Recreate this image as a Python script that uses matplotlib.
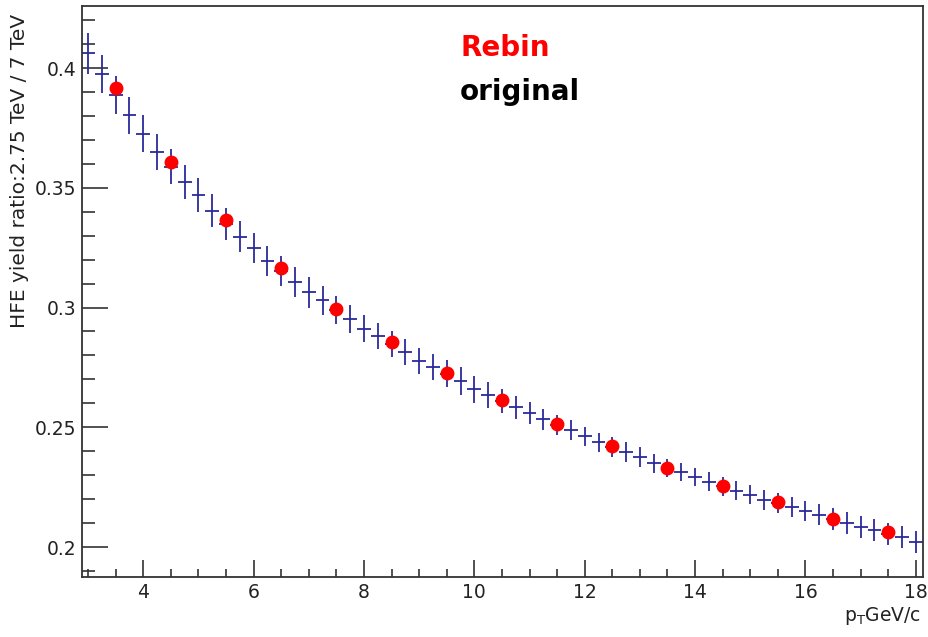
import numpy as np
import matplotlib
matplotlib.use("Agg")
from matplotlib import pyplot as plt
from matplotlib.ticker import MultipleLocator

plt.rcParams['font.family'] = ['DejaVu Sans']
plt.rcParams['mathtext.fontset'] = 'dejavusans'

# original binning (0.25 GeV/c)
pt_orig = [3.0, 3.25, 3.5, 3.75, 4.0, 4.25, 4.5, 4.75, 5.0, 5.25,
           5.5, 5.75, 6.0, 6.25, 6.5, 6.75, 7.0, 7.25, 7.5, 7.75,
           8.0, 8.25, 8.5, 8.75, 9.0, 9.25, 9.5, 9.75, 10.0, 10.25,
           10.5, 10.75, 11.0, 11.25, 11.5, 11.75, 12.0, 12.25, 12.5, 12.75,
           13.0, 13.25, 13.5, 13.75, 14.0, 14.25, 14.5, 14.75, 15.0, 15.25,
           15.5, 15.75, 16.0, 16.25, 16.5, 16.75, 17.0, 17.25, 17.5, 17.75,
           18.0]
ratio_orig = [0.4061, 0.3975, 0.3888, 0.3802, 0.3726, 0.3651, 0.3588, 0.3524, 0.3468, 0.3404,
              0.3350, 0.3296, 0.3247, 0.3196, 0.3152, 0.3108, 0.3063, 0.3031, 0.2991, 0.2951,
              0.2912, 0.2881, 0.2848, 0.2815, 0.2778, 0.2753, 0.2723, 0.2693, 0.2658, 0.2635,
              0.2609, 0.2583, 0.2558, 0.2533, 0.2511, 0.2489, 0.2463, 0.2438, 0.2417, 0.2396,
              0.2375, 0.2350, 0.2331, 0.2312, 0.2294, 0.2273, 0.2254, 0.2236, 0.2218, 0.2198,
              0.2183, 0.2169, 0.2150, 0.2135, 0.2117, 0.2099, 0.2085, 0.2071, 0.2055, 0.2040,
              0.2022]
err_orig = [0.0084, 0.0081, 0.0079, 0.0079, 0.0077, 0.0075, 0.0073, 0.0071, 0.0071, 0.0069,
            0.0067, 0.0065, 0.0063, 0.0063, 0.0063, 0.0063, 0.0063, 0.0061, 0.0058, 0.0058,
            0.0056, 0.0056, 0.0054, 0.0054, 0.0054, 0.0054, 0.0056, 0.0058, 0.0058, 0.0054,
            0.0050, 0.0048, 0.0046, 0.0044, 0.0042, 0.0042, 0.0040, 0.0040, 0.0042, 0.0042,
            0.0042, 0.0040, 0.0038, 0.0038, 0.0038, 0.0040, 0.0040, 0.0040, 0.0040, 0.0042,
            0.0042, 0.0042, 0.0042, 0.0044, 0.0044, 0.0046, 0.0046, 0.0046, 0.0046, 0.0046,
            0.0046]

# rebinned (1 GeV/c)
pt_rebin = [3.5, 4.5, 5.5, 6.5, 7.5, 8.5, 9.5, 10.5, 11.5, 12.5, 13.5, 14.5, 15.5, 16.5, 17.5]
ratio_rebin = [0.3917, 0.3608, 0.3365, 0.3164, 0.2994, 0.2855, 0.2728, 0.2614,
               0.2514, 0.2420, 0.2331, 0.2253, 0.2187, 0.2116, 0.2061]

fig = plt.figure(figsize=(9.29, 6.37), dpi=100)
ax = fig.add_axes([82/929, 1-577/637, 841/929, 571/637])

ax.errorbar(pt_orig, ratio_orig, yerr=err_orig, xerr=0.125, fmt='none',
            ecolor='#2a2a9c', elinewidth=1.3, capsize=0, zorder=2)
ax.plot(pt_rebin, ratio_rebin, 'o', color='#ff0000', markersize=10,
        markeredgewidth=0, zorder=3)

ax.set_xlim(2.89, 18.13)
ax.set_ylim(0.1875, 0.4259)
ax.xaxis.set_major_locator(MultipleLocator(2))
ax.xaxis.set_minor_locator(MultipleLocator(0.5))
ax.yaxis.set_major_locator(MultipleLocator(0.05))
ax.yaxis.set_minor_locator(MultipleLocator(0.01))
ax.yaxis.set_major_formatter(matplotlib.ticker.FuncFormatter(lambda v, p: f'{v:g}'))

ax.tick_params(axis='both', which='both', direction='in', top=False, right=False,
               color='#333333', labelsize=13.5, labelcolor='#222222')
ax.tick_params(axis='y', which='major', length=19, width=1.2, pad=4)
ax.tick_params(axis='y', which='minor', length=9.5, width=1.2)
ax.tick_params(axis='x', which='major', length=12, width=1.2, pad=4)
ax.tick_params(axis='x', which='minor', length=6, width=1.2)
for s in ax.spines.values():
    s.set_color('#333333')
    s.set_linewidth(1.3)

fig.text(20/929, 1-14/637, 'HFE yield ratio:2.75 TeV / 7 TeV', rotation=90,
         ha='center', va='top', fontsize=14.5, color='#222222')
fig.text(921/929, 1-621/637, r'p$_\mathregular{T}$GeV/c', ha='right', va='baseline',
         fontsize=13.5, color='#222222')

ax.text(461/929, 1-56/637, 'Rebin', transform=fig.transFigure, color='#ff0000',
        fontsize=20, fontweight='bold', ha='left', va='baseline')
ax.text(460/929, 1-100/637, 'original', transform=fig.transFigure, color='black',
        fontsize=20, fontweight='bold', ha='left', va='baseline')

fig.savefig('out.png', dpi=100)
